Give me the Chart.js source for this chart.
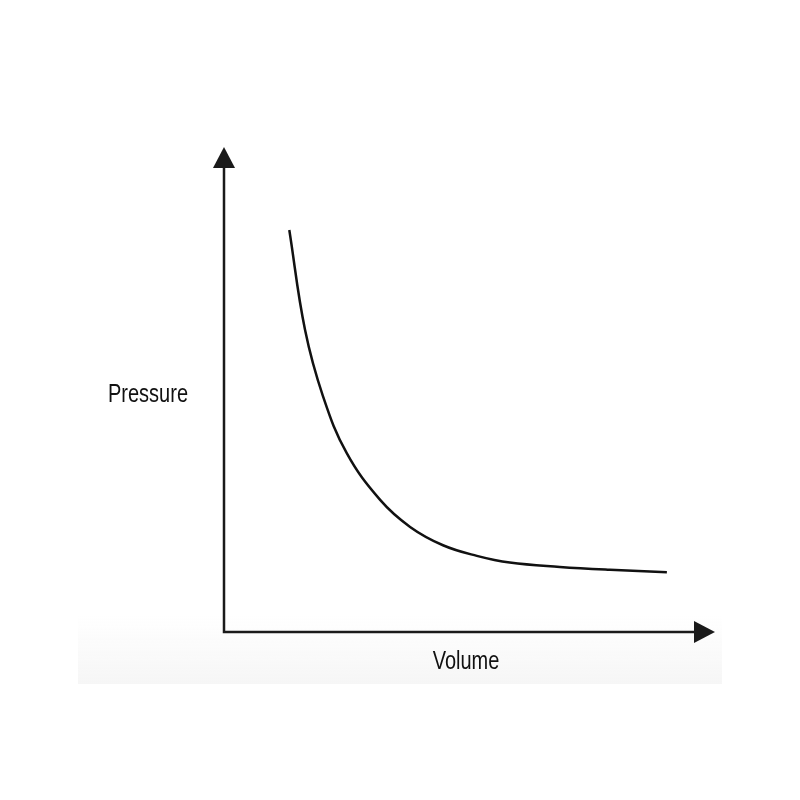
<!DOCTYPE html>
<html>
<head>
<meta charset="utf-8">
<script src="https://cdn.jsdelivr.net/npm/chart.js"></script>
<style>
  html, body { margin: 0; padding: 0; background: #fff; }
  #wrap { width: 800px; height: 800px; }
</style>
</head>
<body>
<div id="wrap"><canvas id="pvChart"></canvas></div>
<script>
// Pressure vs volume (Boyle's law curve), arbitrary units 0-10
const volume = [1.33, 1.65, 2.02, 2.50, 3.18, 3.79, 4.46, 5.15, 5.82, 6.84, 7.86, 9.02];
const pressure = [8.34, 6.27, 4.88, 3.71, 2.74, 2.18, 1.80, 1.58, 1.44, 1.35, 1.29, 1.24];
const xLabel = 'Volume';
const yLabel = 'Pressure';

const points = volume.map((v, i) => ({ x: v, y: pressure[i] }));

// draws text squeezed horizontally, like a narrow grotesque
function narrowText(ctx, text, x, y) {
  ctx.save();
  ctx.translate(x, y);
  ctx.scale(0.8, 1);
  ctx.fillText(text, 0, 0);
  ctx.restore();
}

// Axes with arrow heads and the two labels
const axesPlugin = {
  id: 'arrowAxes',
  beforeDraw(chart) {
    const { ctx } = chart;
    // very faint grey band behind the lower part of the figure
    const g = ctx.createLinearGradient(0, 615, 0, 684);
    g.addColorStop(0, 'rgba(246,246,246,0)');
    g.addColorStop(1, 'rgba(246,246,246,1)');
    ctx.save();
    ctx.fillStyle = g;
    ctx.fillRect(78, 615, 644, 69);
    ctx.restore();
  },
  afterDraw(chart) {
    const { ctx, chartArea } = chart;
    const x0 = chartArea.left, y0 = chartArea.bottom;
    const top = chartArea.top, right = chartArea.right;
    ctx.save();
    ctx.strokeStyle = '#1a1a1a';
    ctx.fillStyle = '#1a1a1a';
    ctx.lineWidth = 2.5;
    ctx.beginPath();
    ctx.moveTo(x0, top + 18);
    ctx.lineTo(x0, y0);
    ctx.lineTo(right - 20, y0);
    ctx.stroke();
    // up arrow
    ctx.beginPath();
    ctx.moveTo(x0, top - 3);
    ctx.lineTo(x0 - 11, top + 18);
    ctx.lineTo(x0 + 11, top + 18);
    ctx.closePath();
    ctx.fill();
    // right arrow
    ctx.beginPath();
    ctx.moveTo(right, y0);
    ctx.lineTo(right - 21, y0 - 11);
    ctx.lineTo(right - 21, y0 + 11);
    ctx.closePath();
    ctx.fill();

    ctx.font = '25px "Liberation Sans", Arial, sans-serif';
    ctx.textBaseline = 'middle';
    ctx.textAlign = 'center';
    ctx.fillStyle = '#111';
    narrowText(ctx, xLabel, 466, y0 + 30);
    narrowText(ctx, yLabel, 148, 395);
    ctx.restore();
  }
};

new Chart(document.getElementById('pvChart'), {
  type: 'line',
  data: {
    datasets: [{
      data: points,
      borderColor: '#111',
      borderWidth: 2.5,
      pointRadius: 0,
      fill: false,
      tension: 0.4
    }]
  },
  options: {
    responsive: true,
    maintainAspectRatio: false,
    animation: false,
    layout: { padding: { left: 224, top: 150, right: 85, bottom: 168 } },
    plugins: {
      legend: { display: false },
      tooltip: { enabled: false }
    },
    scales: {
      x: { type: 'linear', min: 0, max: 10, display: false },
      y: { type: 'linear', min: 0, max: 10, display: false }
    }
  },
  plugins: [axesPlugin]
});
</script>
</body>
</html>
